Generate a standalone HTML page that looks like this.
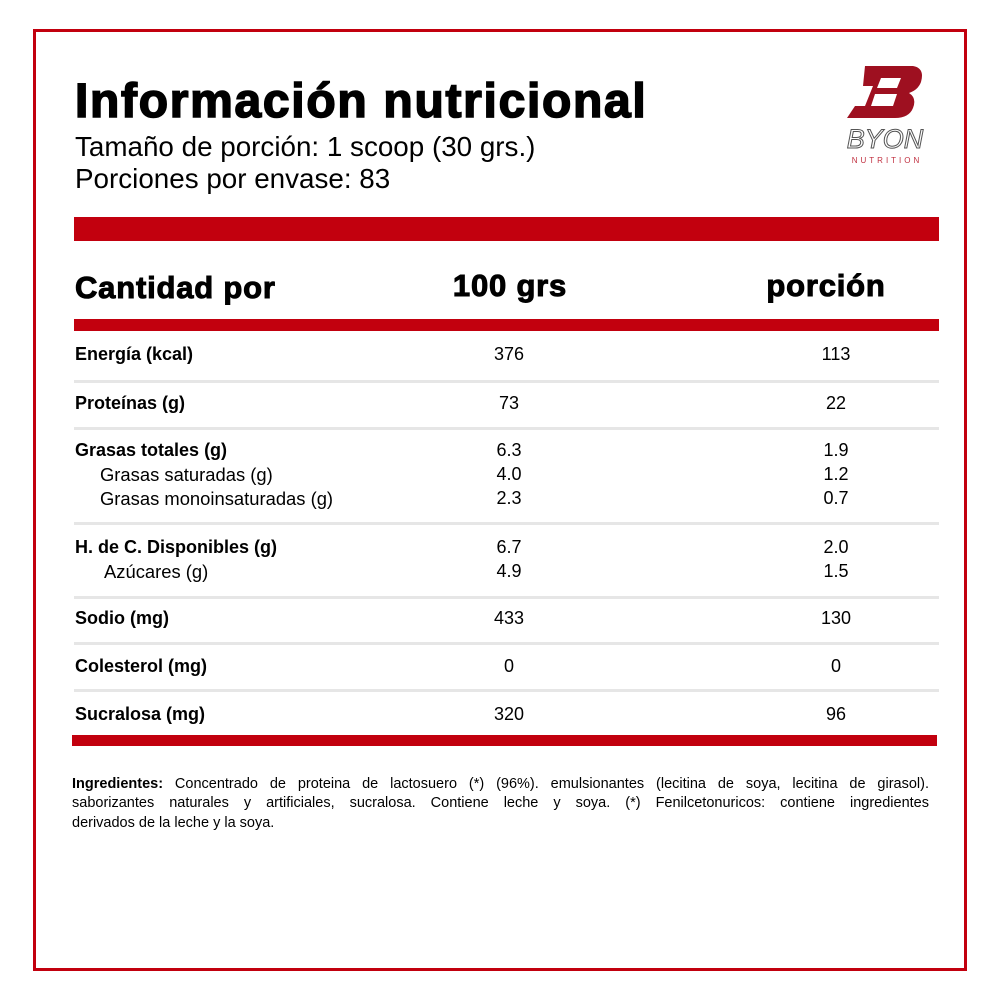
<!DOCTYPE html>
<html><head><meta charset="utf-8"><style>
*{margin:0;padding:0;box-sizing:border-box}
body{width:1000px;height:1000px;background:#fff;position:relative;font-family:"Liberation Sans",sans-serif;color:#000;overflow:hidden}
.a{position:absolute;white-space:nowrap}
.bar{position:absolute;background:#c2000e}
.sep{position:absolute;left:74px;width:865px;height:3px;background:#e6e6e6}
.l{position:absolute;left:75px;font-size:18px;font-weight:bold}
.s{position:absolute;font-size:18.4px}
.v1{position:absolute;left:459px;width:100px;text-align:center;font-size:18px}
.v2{position:absolute;left:786px;width:100px;text-align:center;font-size:18px}
.h{font-weight:900;font-size:31px;-webkit-text-stroke:1px #000;letter-spacing:0.8px}
.ing{position:absolute;left:72px;width:857px;font-size:14.5px;white-space:nowrap;text-align:justify;text-align-last:justify}
</style></head><body>
<div style="position:absolute;left:33px;top:29px;width:934px;height:942px;border:3px solid #c2000e"></div>
<div class="a" style="left:75px;top:74px;font-size:48px;font-weight:900;-webkit-text-stroke:1.6px #000;letter-spacing:1.7px">Información nutricional</div>
<div class="a" style="left:75px;top:131px;font-size:27.8px">Tamaño de porción: 1 scoop (30 grs.)</div>
<div class="a" style="left:75px;top:163px;font-size:27.8px">Porciones por envase: 83</div>
<svg class="a" style="left:825px;top:60px" width="120" height="110" viewBox="0 0 120 110">
<path d="M40 6 L88 6 Q100 8 96 22 Q93 30 84 33 Q92 38 88 48 Q84 58 70 58 L22 58 L30 46 L40 46 L48 26 L38 26 Z" fill="#9e1020"/>
<path d="M56 18 L76 18 L72 28 L52 28 Z M50 34 L72 34 L68 46 L46 46 Z" fill="#fff"/>
<text x="60" y="88" text-anchor="middle" font-family="Liberation Sans" font-style="italic" font-size="27" fill="#fff" stroke="#555" stroke-width="1">BYON</text>
<text x="62" y="103" text-anchor="middle" font-family="Liberation Sans" font-size="8" letter-spacing="3" fill="#c03040">NUTRITION</text>
</svg>
<div class="bar" style="left:74px;top:217px;width:865px;height:24px"></div>
<div class="a h" style="left:75px;top:270px">Cantidad por</div>
<div class="a h" style="left:410px;top:268px;width:200px;text-align:center">100 grs</div>
<div class="a h" style="left:726px;top:268px;width:200px;text-align:center">porción</div>
<div class="bar" style="left:74px;top:319px;width:865px;height:12px"></div>

<div class="l" style="top:344px">Energía (kcal)</div><div class="v1" style="top:344px">376</div><div class="v2" style="top:344px">113</div>
<div class="sep" style="top:380px"></div>
<div class="l" style="top:393px">Proteínas (g)</div><div class="v1" style="top:393px">73</div><div class="v2" style="top:393px">22</div>
<div class="sep" style="top:427px"></div>
<div class="l" style="top:440px">Grasas totales (g)</div><div class="v1" style="top:440px">6.3</div><div class="v2" style="top:440px">1.9</div>
<div class="s" style="left:100px;top:464px">Grasas saturadas (g)</div><div class="v1" style="top:464px">4.0</div><div class="v2" style="top:464px">1.2</div>
<div class="s" style="left:100px;top:488px">Grasas monoinsaturadas (g)</div><div class="v1" style="top:488px">2.3</div><div class="v2" style="top:488px">0.7</div>
<div class="sep" style="top:522px"></div>
<div class="l" style="top:537px">H. de C. Disponibles (g)</div><div class="v1" style="top:537px">6.7</div><div class="v2" style="top:537px">2.0</div>
<div class="s" style="left:104px;top:561px">Azúcares (g)</div><div class="v1" style="top:561px">4.9</div><div class="v2" style="top:561px">1.5</div>
<div class="sep" style="top:596px"></div>
<div class="l" style="top:608px">Sodio (mg)</div><div class="v1" style="top:608px">433</div><div class="v2" style="top:608px">130</div>
<div class="sep" style="top:642px"></div>
<div class="l" style="top:656px">Colesterol (mg)</div><div class="v1" style="top:656px">0</div><div class="v2" style="top:656px">0</div>
<div class="sep" style="top:689px"></div>
<div class="l" style="top:704px">Sucralosa (mg)</div><div class="v1" style="top:704px">320</div><div class="v2" style="top:704px">96</div>
<div class="bar" style="left:72px;top:735px;width:865px;height:11px"></div>

<div class="ing" style="top:776px"><b>Ingredientes:</b> Concentrado de proteina de lactosuero (*) (96%). emulsionantes (lecitina de soya, lecitina de girasol).</div>
<div class="ing" style="top:795px">saborizantes naturales y artificiales, sucralosa. Contiene leche y soya. (*) Fenilcetonuricos: contiene ingredientes</div>
<div class="ing" style="top:815px;text-align:left;text-align-last:left">derivados de la leche y la soya.</div>
</body></html>
